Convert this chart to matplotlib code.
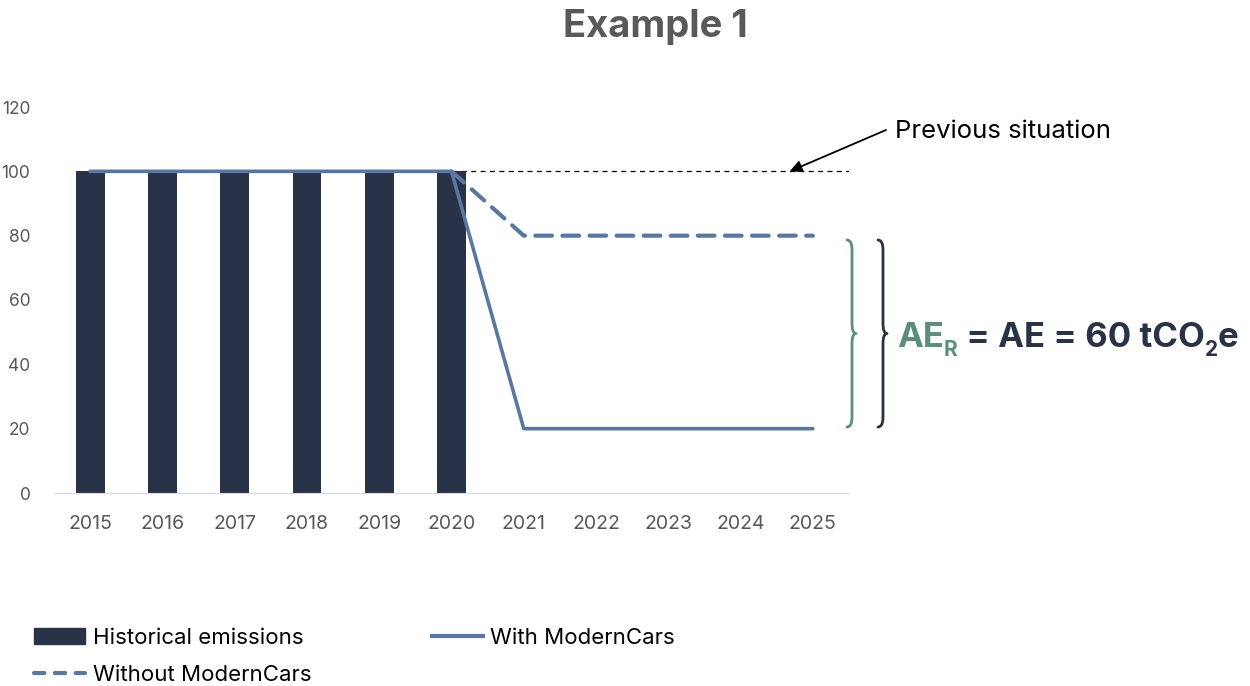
import matplotlib
matplotlib.use("Agg")
import matplotlib.pyplot as plt
from matplotlib.path import Path
from matplotlib.patches import PathPatch, Patch
from matplotlib.lines import Line2D
import numpy as np

plt.rcParams['font.family'] = ['Inter', 'DejaVu Sans']

years = ['2015', '2016', '2017', '2018', '2019', '2020', '2021', '2022', '2023', '2024', '2025']
historical = [100, 100, 100, 100, 100, 100, None, None, None, None, None]
with_modern = [100, 100, 100, 100, 100, 100, 20, 20, 20, 20, 20]
without_modern = [None, None, None, None, None, 100, 80, 80, 80, 80, 80]
previous_level = 100

BAR = '#283347'
LINE = '#5878a3'
GREEN = '#5b8f7b'
DARK = '#283347'

W, H = 1250, 686
fig = plt.figure(figsize=(W / 100, H / 100), dpi=100)
ax = fig.add_axes([54 / W, 1 - 493 / H, (849 - 54) / W, (493 - 107) / H])

x = np.arange(len(years))
hx = [i for i, v in enumerate(historical) if v is not None]
hv = [v for v in historical if v is not None]
ax.bar(hx, hv, width=0.4, color=BAR, zorder=2)
ax.plot(x, with_modern, color=LINE, lw=2.6, zorder=3, solid_capstyle='round')
wx = [i for i, v in enumerate(without_modern) if v is not None]
wv = [v for v in without_modern if v is not None]
ax.plot(wx, wv, color=LINE, lw=3.0, ls=(0, (4, 2.5)), dash_capstyle='round', zorder=3)
ax.plot([5, 10.5], [previous_level, previous_level], color='black', lw=0.9, ls=(0, (4, 3.5)), zorder=1)

ax.set_xlim(-0.5, 10.5)
ax.set_ylim(0, 120)
ax.set_xticks(x)
ax.set_xticklabels(years, fontsize=14, color='#595959')
ax.set_yticks(np.arange(0, 121, 20))
ax.tick_params(axis='y', labelsize=12.5, colors='#595959', length=0, pad=17)
ax.tick_params(axis='x', length=0, pad=16)
for s in ['top', 'right', 'left']:
    ax.spines[s].set_visible(False)
ax.spines['bottom'].set_color('#d9d9d9')

fig.text(655 / W, 1 - 27 / H, 'Example 1', ha='center', va='center', fontsize=27.5,
         fontweight='bold', color='#595959')

# Previous situation annotation
fig.text(895 / W, 1 - 131 / H, 'Previous situation', fontsize=18.5, va='center',
         ha='left', color='black')
ax.annotate('', xy=(9.68, previous_level), xycoords='data',
            xytext=(886 / W, 1 - 130 / H), textcoords='figure fraction',
            arrowprops=dict(arrowstyle='-|>', color='black', lw=1.3,
                            mutation_scale=18, shrinkA=0, shrinkB=0))


def brace(x0, yt, yb, w, tip, r, color):
    ym = (yt + yb) / 2
    pts = [(x0, yt), (x0 + w, yt), (x0 + w, yt + r),
           (x0 + w, ym - r),
           (x0 + w, ym), (x0 + w + tip, ym),
           (x0 + w, ym), (x0 + w, ym + r),
           (x0 + w, yb - r),
           (x0 + w, yb), (x0, yb)]
    codes = [Path.MOVETO, Path.CURVE3, Path.CURVE3, Path.LINETO,
             Path.CURVE3, Path.CURVE3, Path.CURVE3, Path.CURVE3,
             Path.LINETO, Path.CURVE3, Path.CURVE3]
    pts = [(px / W, 1 - py / H) for px, py in pts]
    p = PathPatch(Path(pts, codes), fill=False, edgecolor=color, lw=2,
                  transform=fig.transFigure, capstyle='round', joinstyle='round')
    fig.patches.append(p)


brace(847, 240, 427, 5, 4, 10, GREEN)
brace(878, 240, 427, 5, 4, 10, DARK)

fs = 25
t1 = fig.text(897 / W, 1 - 347 / H, 'AE', fontsize=fs, fontweight='bold', color=GREEN,
              ha='left', va='baseline')
t2 = ax.annotate('R', xy=(1, 0), xycoords=t1, xytext=(0, -4), textcoords='offset points',
                 fontsize=15, fontweight='bold', color=GREEN, ha='left', va='bottom')
t3 = ax.annotate(' = AE = 60 tCO', xy=(1, 0), xycoords=t2, xytext=(0, 4),
                 textcoords='offset points', fontsize=fs, fontweight='bold',
                 color=DARK, ha='left', va='bottom')
t4 = ax.annotate('2', xy=(1, 0), xycoords=t3, xytext=(0, -4), textcoords='offset points',
                 fontsize=15, fontweight='bold', color=DARK, ha='left', va='bottom')
t5 = ax.annotate('e', xy=(1, 0), xycoords=t4, xytext=(0, 4), textcoords='offset points',
                 fontsize=fs, fontweight='bold', color=DARK, ha='left', va='bottom')

handles = [Patch(facecolor=BAR, edgecolor=BAR),
           Line2D([], [], color=LINE, lw=3, ls=(0, (2.5, 2.5)), dash_capstyle='round'),
           Line2D([], [], color=LINE, lw=3)]
labels = ['Historical emissions', 'Without ModernCars', 'With ModernCars']
fig.legend(handles, labels, loc='upper left', bbox_to_anchor=(14 / W, 1 - 608 / H),
           ncol=2, frameon=False, fontsize=16, handlelength=2.3, handleheight=0.75,
           handletextpad=0.35, columnspacing=5.4, labelspacing=0.75)

fig.savefig('out.png', dpi=100)
